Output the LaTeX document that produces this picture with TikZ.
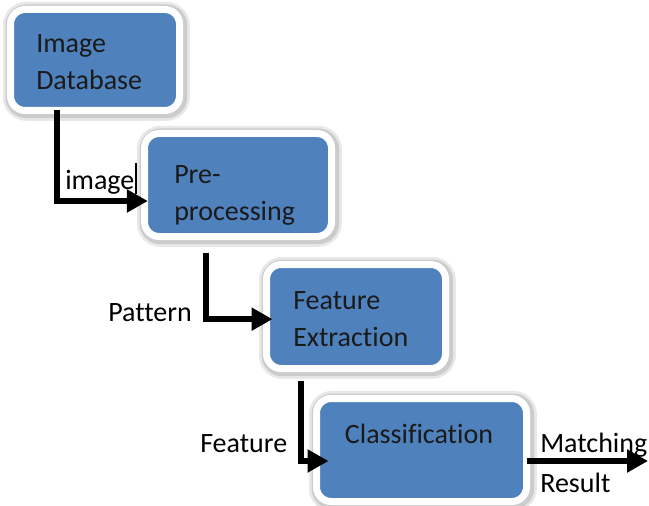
\documentclass[tikz,border=0pt]{standalone}
\usepackage{fontspec}
\setmainfont{Carlito}[Ligatures=NoCommon]
\usetikzlibrary{arrows.meta,calc}
\definecolor{boxblue}{HTML}{4F81BD}
\definecolor{txt}{HTML}{1A1A1A}
\begin{document}
\begin{tikzpicture}[x=0.75pt,y=-0.75pt,
  box/.style={fill=boxblue, draw=white, line width=5.25pt, rounded corners=11pt,
    inner sep=0pt, outer sep=0pt,
    preaction={draw=black!9, line width=13.5pt, transform canvas={shift={(1pt,-1pt)}}},
    preaction={draw=black!20, line width=9.5pt, transform canvas={shift={(1pt,-1pt)}}}},
  boxtext/.style={font=\fontsize{21pt}{27.75pt}\selectfont, text=txt, inner sep=0pt, align=left},
  lbl/.style={font=\fontsize{21pt}{27.75pt}\selectfont, text=black, inner sep=0pt},
  arr/.style={line width=4.5pt, -{Triangle[length=15.75pt,width=16.5pt]}},
  mark line/.style={line width=1.5pt}
]
\useasboundingbox (0,0) rectangle (649,506);
% boxes
\node[box, minimum width=126.75pt, minimum height=75.75pt] (b1) at (95,60) {};
\node[box, minimum width=140.25pt, minimum height=77.25pt] (b2) at (238,185) {};
\node[box, minimum width=134.25pt, minimum height=78pt] (b3) at (356,316.5) {};
\node[box, minimum width=157.5pt, minimum height=77.25pt] (b4) at (421.5,450) {};
% box texts (base = baseline of last line)
\node[boxtext, anchor=base west] (t1) at (36,90) {Image\\Database};
\node[boxtext, anchor=base west] (t2) at (174,220) {Pre-\\processing};
\node[boxtext, anchor=base west] (t3) at (293,346) {Feature\\Extraction};
\node[boxtext, anchor=base] (t4) at (419,443) {Classification};
% labels
\node[lbl, anchor=base west] (l1) at (65,190) {image};
\node[lbl, anchor=base west] (l2) at (108,321) {Pattern};
\node[lbl, anchor=base west] (l3) at (200,452) {Feature};
\node[lbl, anchor=base west] (l4) at (540,452) {Matching};
\node[lbl, anchor=base west] (l5) at (540,492) {Result};
% small mark beside "image"
\coordinate (m1) at (136,163);
\coordinate (m2) at (136,194);
\draw[mark line] (m1) -- (m2);
% arrows
\draw[arr] ([xshift=-28.5pt]b1.south) |- ([xshift=2.5pt,yshift=-12pt]b2.west);
\draw[arr] ([xshift=-24pt,yshift=-12pt]b2.south) |- ([xshift=4.5pt,yshift=-2pt]b3.west);
\draw[arr] ([xshift=-41.25pt,yshift=-9pt]b3.south) |- ([xshift=9pt,yshift=-8.25pt]b4.west);
\coordinate (out) at (648,461);
\draw[arr] ([yshift=-8.25pt]b4.east) -- (out);
\end{tikzpicture}
\end{document}
